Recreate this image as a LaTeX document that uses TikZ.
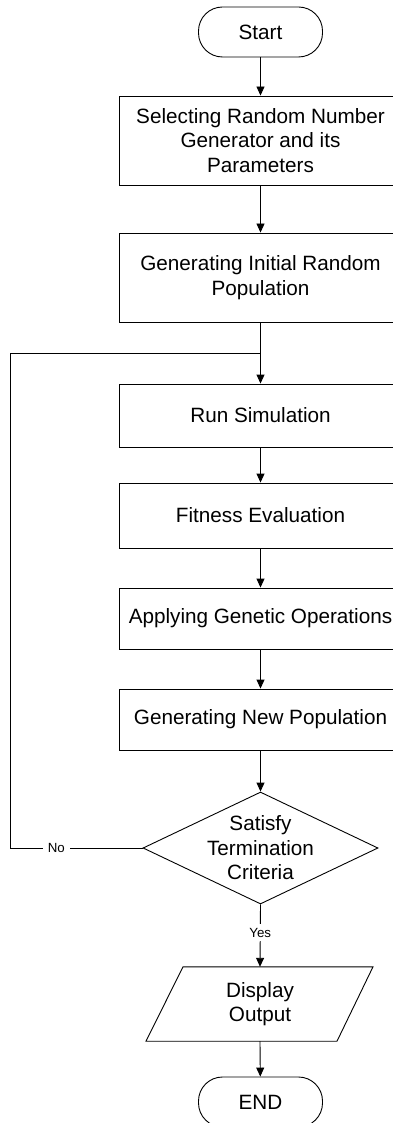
\documentclass[tikz,border=0pt]{standalone}
\usepackage{fontspec}
\setmainfont{Liberation Sans}
\usetikzlibrary{arrows.meta,shapes.geometric}

\begin{document}
\begin{tikzpicture}[x=1pt,y=-1pt,
  line/.style={draw,line width=0.9pt},
  arr/.style={line,-{Triangle[length=9pt,width=8pt]}},
  txt/.style={font=\fontsize{20.7}{24.5}\selectfont,align=center,inner sep=0pt},
  box/.style={txt,line,minimum width=283pt},
  term/.style={txt,line,minimum width=124pt,minimum height=50pt,rounded corners=24pt},
  lbl/.style={font=\fontsize{13.3}{15}\selectfont,fill=white,inner xsep=5pt,inner ysep=4pt}]
\useasboundingbox (0,0) rectangle (393,1123);
\clip (0,0) rectangle (393,1123);

% main column of steps
\node[term] (start) at (260.5,32) {Start};
\node[box,minimum height=89pt] (sel) at (260.5,140.5) {Selecting Random Number\\Generator and its\\Parameters};
\node[box,minimum height=89pt] (init) at (260.5,277.5) {Generating Initial Random\\Population};
\node[box,minimum height=63pt] (run) at (260.5,415.5) {Run Simulation};
\node[box,minimum height=65pt] (fit) at (260.5,515.5) {Fitness Evaluation};
\node[box,minimum height=61pt] (gen) at (260.5,618.5) {Applying Genetic Operations};
\node[box,minimum height=61pt] (newpop) at (260.5,719.5) {Generating New Population};

% decision
\node[diamond,line,minimum width=235pt,minimum height=112pt,inner sep=0pt] (dec) at (260.5,848) {};
\node[txt] (dectxt) at (dec.center) {Satisfy\\Termination\\Criteria};

% output (parallelogram drawn around its text)
\node[txt,minimum width=190pt,minimum height=74pt] (out) at (260,1004) {Display\\Output};
\draw[line] ([xshift=-77pt]out.north) -- ([xshift=113pt]out.north)
  -- ([xshift=77pt]out.south) -- ([xshift=-114pt]out.south) -- cycle;

\node[term] (end) at (260.5,1102) {END};

% loop coordinates
\coordinate (join) at (260.5,353);
\coordinate (loopL) at (10,848);

% connectors
\draw[arr] (start) -- (sel);
\draw[arr] (sel) -- (init);
\draw[arr] (init) -- (run);
\draw[arr] (run) -- (fit);
\draw[arr] (fit) -- (gen);
\draw[arr] (gen) -- (newpop);
\draw[arr] (newpop) -- (dec);
\draw[line] (dec.west) -- node[lbl,pos=0.65] {No} (loopL) |- (join);
\draw[arr] (dec.south) -- node[lbl,pos=0.45] {Yes} (out.north);
\draw[arr] (out.south) -- (end);
\end{tikzpicture}
\end{document}
